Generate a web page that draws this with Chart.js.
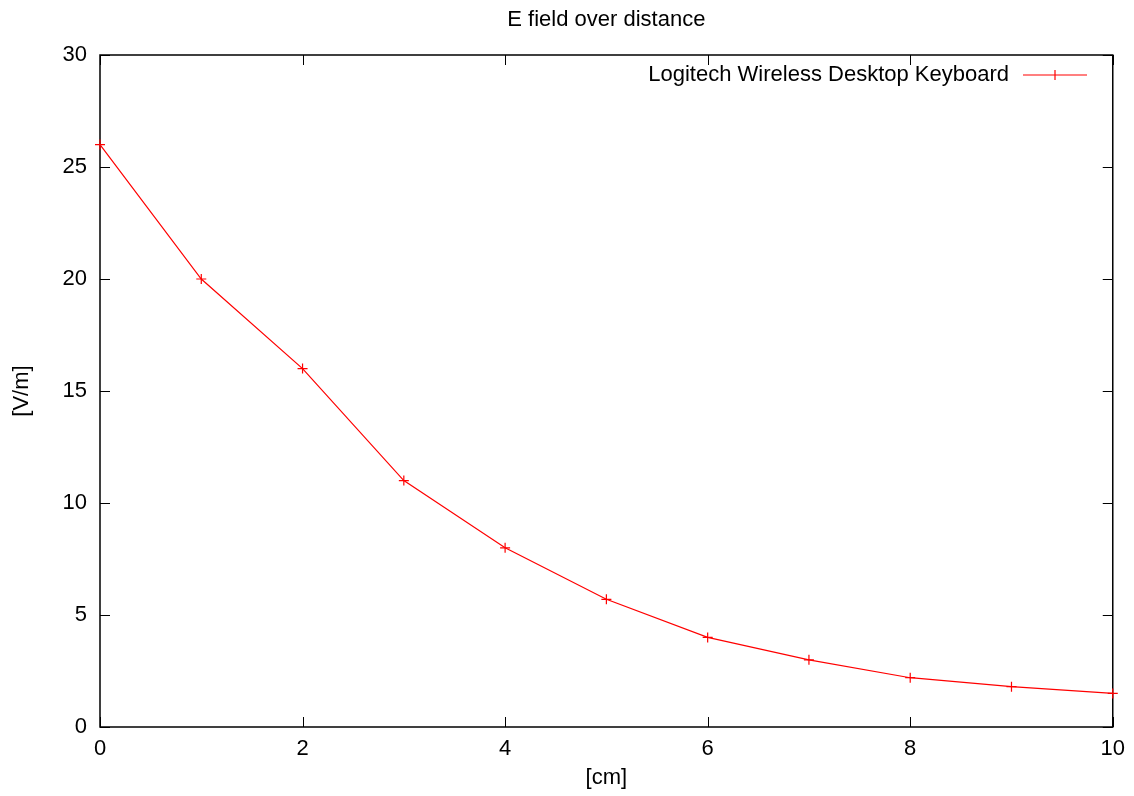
<!DOCTYPE html>
<html>
<head>
<meta charset="utf-8">
<script src="https://cdn.jsdelivr.net/npm/chart.js@4"></script>
<style>
  html, body { margin: 0; padding: 0; background: #fff; }
</style>
</head>
<body>
<canvas id="chart" width="1134" height="796"></canvas>
<script>
const distances = [0, 1, 2, 3, 4, 5, 6, 7, 8, 9, 10];
const fieldValues = [26, 20, 16, 11, 8, 5.7, 4, 3, 2.2, 1.8, 1.5];
const xTicks = [0, 2, 4, 6, 8, 10];
const yTicks = [0, 5, 10, 15, 20, 25, 30];
const seriesLabel = 'Logitech Wireless Desktop Keyboard';

const fontFamily = '"Liberation Sans", Arial, Helvetica, sans-serif';

// gnuplot style frame with inward ticks on all four sides
const frameTicks = {
  id: 'frameTicks',
  beforeDatasetsDraw(chart) {
    const {ctx, chartArea: a, scales: {x, y}} = chart;
    ctx.save();
    ctx.strokeStyle = '#000';
    ctx.lineWidth = 1.5;
    ctx.strokeRect(a.left, a.top, a.right - a.left, a.bottom - a.top);
    ctx.lineWidth = 1;
    ctx.beginPath();
    for (const v of xTicks) {
      const px = Math.round(x.getPixelForValue(v)) + 0.5;
      ctx.moveTo(px, a.bottom); ctx.lineTo(px, a.bottom - 10);
      ctx.moveTo(px, a.top); ctx.lineTo(px, a.top + 10);
    }
    for (const v of yTicks) {
      const py = Math.round(y.getPixelForValue(v)) + 0.5;
      ctx.moveTo(a.left, py); ctx.lineTo(a.left + 10, py);
      ctx.moveTo(a.right, py); ctx.lineTo(a.right - 10, py);
    }
    ctx.stroke();
    ctx.restore();
  },
  afterDraw(chart) {
    // key in the top right corner, like gnuplot
    const {ctx} = chart;
    const ds = chart.data.datasets[0];
    const ly = 75;
    ctx.save();
    ctx.font = '22px ' + fontFamily;
    ctx.fillStyle = '#000';
    ctx.textAlign = 'right';
    ctx.textBaseline = 'middle';
    ctx.fillText(ds.label, 1009, ly);
    ctx.strokeStyle = ds.borderColor;
    ctx.lineWidth = 1.2;
    ctx.beginPath();
    ctx.moveTo(1023, ly); ctx.lineTo(1087, ly);
    ctx.moveTo(1055, ly - 5); ctx.lineTo(1055, ly + 5);
    ctx.stroke();
    ctx.restore();
  }
};

new Chart(document.getElementById('chart'), {
  type: 'line',
  data: {
    datasets: [{
      label: seriesLabel,
      data: distances.map((d, i) => ({x: d, y: fieldValues[i]})),
      borderColor: '#ff0000',
      backgroundColor: '#ff0000',
      borderWidth: 1.2,
      pointStyle: 'cross',
      pointRadius: 5,
      pointBorderWidth: 1.2,
      pointHoverRadius: 5,
      tension: 0,
      fill: false,
      clip: false,
    }],
  },
  options: {
    responsive: false,
    animation: false,
    layout: { padding: { left: 0, right: 17, top: 0, bottom: 0 } },
    plugins: {
      legend: { display: false },
      tooltip: { enabled: false },
      title: {
        display: true,
        text: 'E field over distance',
        fullSize: false,
        color: '#000',
        font: { family: fontFamily, size: 22, weight: 'normal' },
        padding: { top: 7, bottom: 21.6 },
      },
    },
    scales: {
      x: {
        type: 'linear',
        min: 0,
        max: 10,
        afterFit: (scale) => { scale.height = 69; },
        afterBuildTicks: (scale) => { scale.ticks = xTicks.map(v => ({value: v})); },
        grid: { display: false, drawTicks: false },
        border: { display: false },
        ticks: {
          color: '#000',
          padding: 9,
          maxRotation: 0,
          font: { family: fontFamily, size: 22 },
        },
        title: {
          display: true,
          text: '[cm]',
          color: '#000',
          font: { family: fontFamily, size: 22 },
          padding: { top: 0, bottom: 5 },
        },
      },
      y: {
        type: 'linear',
        min: 0,
        max: 30,
        afterFit: (scale) => { scale.width = 100; },
        afterBuildTicks: (scale) => { scale.ticks = yTicks.map(v => ({value: v})); },
        grid: { display: false, drawTicks: false },
        border: { display: false },
        ticks: {
          color: '#000',
          padding: 13,
          font: { family: fontFamily, size: 22 },
        },
        title: {
          display: true,
          text: '[V/m]',
          color: '#000',
          font: { family: fontFamily, size: 22 },
          padding: { top: 9, bottom: 0 },
        },
      },
    },
  },
  plugins: [frameTicks],
});
</script>
</body>
</html>
